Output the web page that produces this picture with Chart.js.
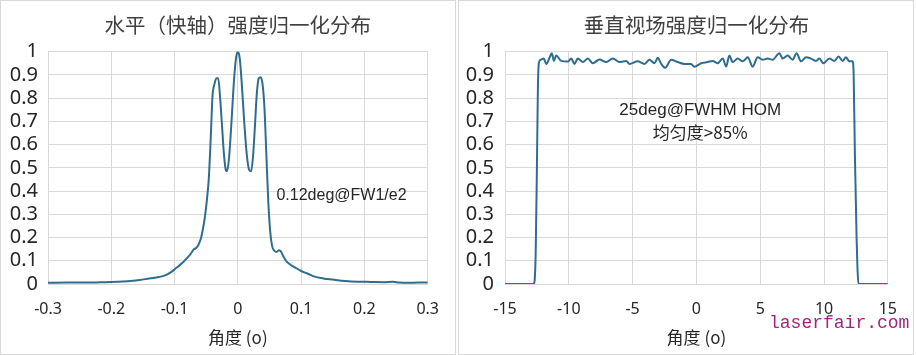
<!DOCTYPE html>
<html>
<head>
<meta charset="utf-8">
<script src="https://cdn.jsdelivr.net/npm/chart.js@4.4.1/dist/chart.umd.min.js"></script>
<style>
  body { margin: 0; background: #fff; width: 916px; height: 355px; position: relative; overflow: hidden; }
  .panel { position: absolute; top: 0; width: 456px; height: 355px; box-sizing: border-box; border: 1px solid #d9d9d9; }
  .panel canvas { display: block; }
  #mark { position: absolute; left: 769px; top: 312px; font: 18px "Liberation Mono", monospace; color: #a0267d; line-height: 22px; white-space: nowrap; }
</style>
</head>
<body>
<div class="panel" style="left:0"><canvas id="hChart" width="454" height="353"></canvas></div>
<div class="panel" style="left:458px"><canvas id="vChart" width="454" height="353"></canvas></div>
<div id="mark">laserfair.com</div>
<script>
// horizontal (fast axis) profile
const hAngle = [
  -0.300, -0.270, -0.240, -0.210, -0.190, -0.170, -0.155, -0.140, -0.125, -0.115,
  -0.105, -0.097, -0.088, -0.081, -0.075, -0.070, -0.066, -0.062, -0.058, -0.055,
  -0.052, -0.049, -0.046, -0.043, -0.040, -0.037, -0.034, -0.031, -0.028, -0.025,
  -0.022, -0.019, -0.017, -0.014, -0.010, -0.006, -0.003, 0.000, 0.003, 0.006,
  0.010, 0.014, 0.018, 0.021, 0.024, 0.027, 0.030, 0.033, 0.036, 0.039,
  0.042, 0.045, 0.048, 0.051, 0.054, 0.057, 0.061, 0.065, 0.068, 0.072,
  0.076, 0.082, 0.090, 0.100, 0.110, 0.120, 0.135, 0.150, 0.170, 0.190,
  0.210, 0.230, 0.245, 0.255, 0.270, 0.285, 0.300
];
const hIntensity = [
  0.005, 0.006, 0.006, 0.008, 0.010, 0.013, 0.017, 0.024, 0.030, 0.037,
  0.052, 0.070, 0.090, 0.110, 0.128, 0.148, 0.155, 0.170, 0.200, 0.240,
  0.290, 0.360, 0.450, 0.620, 0.810, 0.860, 0.885, 0.885, 0.800, 0.680,
  0.560, 0.490, 0.485, 0.540, 0.700, 0.880, 0.970, 1.000, 0.970, 0.870,
  0.700, 0.560, 0.490, 0.485, 0.550, 0.680, 0.820, 0.885, 0.890, 0.860,
  0.760, 0.560, 0.360, 0.230, 0.165, 0.145, 0.138, 0.145, 0.140, 0.118,
  0.100, 0.085, 0.072, 0.056, 0.045, 0.033, 0.024, 0.019, 0.013, 0.010,
  0.009, 0.008, 0.010, 0.006, 0.005, 0.006, 0.006
];

// vertical field profile
const vAngle = [
  -15, -13.5, -12.75, -12.6, -12.5, -12.42, -12.35, -12.2, -11.96, -11.77,
  -11.5, -11.33, -11.17, -10.99, -10.6, -10.08, -9.81, -9.55, -9.3, -8.9,
  -8.51, -8.12, -7.6, -7.07, -6.55, -6.03, -5.5, -5.25, -4.6, -4.07,
  -3.68, -3.29, -3.03, -2.76, -2.45, -1.98, -1.46, -0.94, -0.42, -0.16,
  0.37, 0.88, 1.28, 1.67, 2.06, 2.33, 2.58, 2.84, 3.23, 3.63,
  4.02, 4.41, 4.8, 5.19, 5.58, 5.97, 6.5, 6.76, 7.15, 7.54,
  7.85, 8.2, 8.59, 8.98, 9.37, 9.63, 9.95, 10.42, 10.8, 11.14,
  11.46, 11.72, 11.98, 12.24, 12.32, 12.42, 12.55, 12.7, 13.5, 15
];
const vIntensity = [
  0, 0, 0, 0.12, 0.5, 0.85, 0.95, 0.965, 0.97, 0.947,
  0.975, 0.993, 0.96, 0.983, 0.96, 0.957, 0.97, 0.947, 0.97, 0.955,
  0.97, 0.95, 0.966, 0.955, 0.97, 0.955, 0.96, 0.947, 0.958, 0.947,
  0.965, 0.95, 0.973, 0.947, 0.93, 0.965, 0.955, 0.947, 0.947, 0.935,
  0.95, 0.955, 0.96, 0.95, 0.97, 0.936, 0.983, 0.955, 0.97, 0.958,
  0.976, 0.935, 0.976, 0.965, 0.97, 0.965, 0.993, 0.97, 0.983, 0.965,
  0.993, 0.958, 0.976, 0.97, 0.96, 0.97, 0.95, 0.97, 0.96, 0.979,
  0.96, 0.976, 0.958, 0.958, 0.9, 0.55, 0.2, 0, 0, 0
];

const hTicks = ['-0.3', '-0.2', '-0.1', '0', '0.1', '0.2', '0.3'];
const vTicks = ['-15', '-10', '-5', '0', '5', '10', '15'];
const yTicks = ['0', '0.1', '0.2', '0.3', '0.4', '0.5', '0.6', '0.7', '0.8', '0.9', '1'];

const LINE = '#2e6d8e';
const GRID = '#d9d9d9';
const TEXT = '#262626';
const CJK = '"Noto Sans CJK SC", "Noto Sans", sans-serif';

// text notes placed in data coordinates
const notesPlugin = {
  id: 'notes',
  afterDatasetsDraw(chart, args, opts) {
    const { ctx, scales: { x, y } } = chart;
    ctx.save();
    ctx.fillStyle = TEXT;
    ctx.textBaseline = 'middle';
    opts.lines.forEach((l) => {
      ctx.font = l.font;
      ctx.textAlign = l.align;
      ctx.fillText(l.text, x.getPixelForValue(l.x), y.getPixelForValue(l.y));
    });
    ctx.restore();
  },
};

function makeChart(id, xs, ys, range, step, labels, title, notes, yWidth, padRight, yPad) {
  return new Chart(document.getElementById(id), {
    type: 'line',
    data: {
      datasets: [{
        data: xs.map((x, i) => ({ x, y: ys[i] })),
        borderColor: LINE,
        borderWidth: 2,
        pointRadius: 0,
        fill: false,
        cubicInterpolationMode: 'monotone',
      }],
    },
    options: {
      responsive: false,
      animation: false,
      devicePixelRatio: 1,
      layout: { padding: { left: 0, right: padRight, top: 0, bottom: 0 } },
      plugins: {
        legend: { display: false },
        tooltip: { enabled: false },
        title: {
          display: true,
          text: title,
          fullSize: false,
          color: '#404040',
          font: { family: CJK, size: 20.5, weight: 'normal' },
          padding: { top: 12, bottom: 14 },
        },
        notes: { lines: notes },
      },
      scales: {
        x: {
          type: 'linear',
          min: range[0],
          max: range[1],
          ticks: {
            stepSize: step,
            color: TEXT,
            padding: 16,
            maxRotation: 0,
            autoSkip: false,
            font: { family: '"Noto Sans", sans-serif', size: 16 },
            callback: (v, i) => labels[i],
          },
          grid: { color: GRID, drawTicks: false },
          border: { color: GRID },
          title: {
            display: true,
            text: '角度 (o)',
            color: TEXT,
            font: { family: CJK, size: 17 },
            padding: { top: 0, bottom: 6 },
          },
          afterFit: (s) => { s.height = 70; },
        },
        y: {
          min: 0,
          max: 1,
          ticks: {
            stepSize: 0.1,
            color: TEXT,
            padding: yPad,
            autoSkip: false,
            font: { family: '"Noto Sans", sans-serif', size: 20 },
            callback: (v, i) => yTicks[i],
          },
          grid: { color: GRID, drawTicks: false },
          border: { color: GRID },
          afterFit: (s) => { s.width = yWidth; },
        },
      },
    },
    plugins: [notesPlugin],
  });
}

makeChart('hChart', hAngle, hIntensity, [-0.3, 0.3], 0.1, hTicks,
  '水平（快轴）强度归一化分布',
  [{ text: '0.12deg@FW1/e2', x: 0.061, y: 0.382, align: 'left', font: '16px "Liberation Sans", Arial, sans-serif' }],
  47, 23, 10);

makeChart('vChart', vAngle, vIntensity, [-15, 15], 5, vTicks,
  '垂直视场强度归一化分布',
  [
    { text: '25deg@FWHM HOM', x: 0.3, y: 0.748, align: 'center', font: '17px "Liberation Sans", Arial, sans-serif' },
    { text: '均匀度>85%', x: 0.3, y: 0.65, align: 'center', font: '17px "Noto Sans CJK SC", "Liberation Sans", sans-serif' },
  ],
  46, 25, 11);
</script>
</body>
</html>
